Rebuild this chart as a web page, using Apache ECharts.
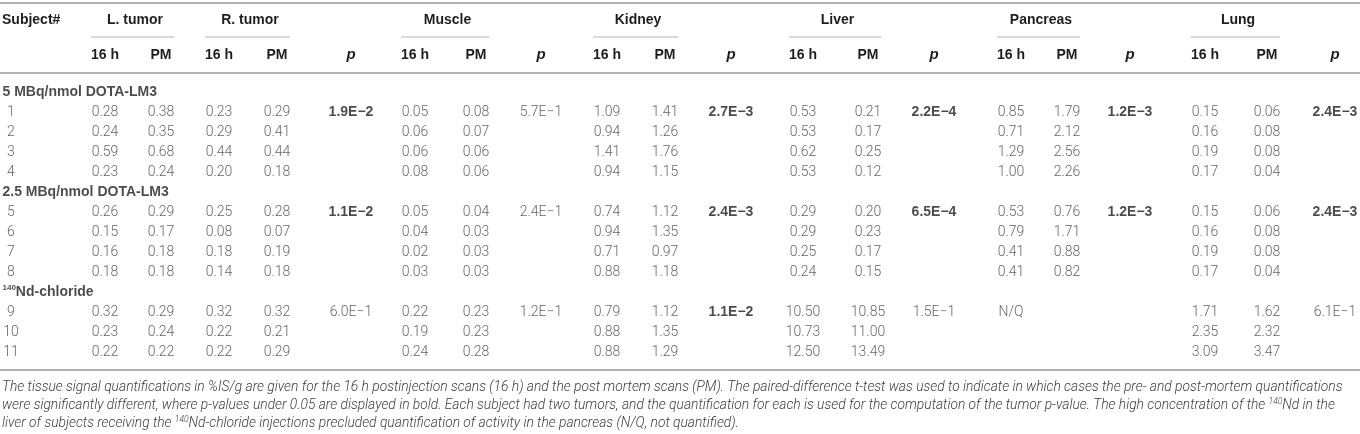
<!DOCTYPE html>
<html><head><meta charset="utf-8">
<script src="https://cdn.jsdelivr.net/npm/echarts@6/dist/echarts.min.js"></script>
<style>html,body{margin:0;padding:0;background:#fff}#c{width:1360px;height:434px}</style>
</head><body><div id="c"></div>
<script>
// ---------------- DATA ----------------
const GROUPS = ['5 MBq/nmol DOTA-LM3', '2.5 MBq/nmol DOTA-LM3', '140Nd-chloride'];
const GROUP_SUBJECTS = [[1, 2, 3, 4], [5, 6, 7, 8], [9, 10, 11]];
const ORGANS = ['L. tumor', 'R. tumor', 'Muscle', 'Kidney', 'Liver', 'Pancreas', 'Lung'];
const SUBHEADS = ['16 h', 'PM', 'p'];

const L_TUMOR_16H = [0.28, 0.24, 0.59, 0.23, 0.26, 0.15, 0.16, 0.18, 0.32, 0.23, 0.22];
const L_TUMOR_PM  = [0.38, 0.35, 0.68, 0.24, 0.29, 0.17, 0.18, 0.18, 0.29, 0.24, 0.22];
const R_TUMOR_16H = [0.23, 0.29, 0.44, 0.20, 0.25, 0.08, 0.18, 0.14, 0.32, 0.22, 0.22];
const R_TUMOR_PM  = [0.29, 0.41, 0.44, 0.18, 0.28, 0.07, 0.19, 0.18, 0.32, 0.21, 0.29];
const TUMOR_P     = [1.9e-2, 1.1e-2, 6.0e-1];
const MUSCLE_16H  = [0.05, 0.06, 0.06, 0.08, 0.05, 0.04, 0.02, 0.03, 0.22, 0.19, 0.24];
const MUSCLE_PM   = [0.08, 0.07, 0.06, 0.06, 0.04, 0.03, 0.03, 0.03, 0.23, 0.23, 0.28];
const MUSCLE_P    = [5.7e-1, 2.4e-1, 1.2e-1];
const KIDNEY_16H  = [1.09, 0.94, 1.41, 0.94, 0.74, 0.94, 0.71, 0.88, 0.79, 0.88, 0.88];
const KIDNEY_PM   = [1.41, 1.26, 1.76, 1.15, 1.12, 1.35, 0.97, 1.18, 1.12, 1.35, 1.29];
const KIDNEY_P    = [2.7e-3, 2.4e-3, 1.1e-2];
const LIVER_16H   = [0.53, 0.53, 0.62, 0.53, 0.29, 0.29, 0.25, 0.24, 10.50, 10.73, 12.50];
const LIVER_PM    = [0.21, 0.17, 0.25, 0.12, 0.20, 0.23, 0.17, 0.15, 10.85, 11.00, 13.49];
const LIVER_P     = [2.2e-4, 6.5e-4, 1.5e-1];
const PANCREAS_16H = [0.85, 0.71, 1.29, 1.00, 0.53, 0.79, 0.41, 0.41, 'N/Q', null, null];
const PANCREAS_PM  = [1.79, 2.12, 2.56, 2.26, 0.76, 1.71, 0.88, 0.82, null, null, null];
const PANCREAS_P   = [1.2e-3, 1.2e-3, null];
const LUNG_16H    = [0.15, 0.16, 0.19, 0.17, 0.15, 0.16, 0.19, 0.17, 1.71, 2.35, 3.09];
const LUNG_PM     = [0.06, 0.08, 0.08, 0.04, 0.06, 0.08, 0.08, 0.04, 1.62, 2.32, 3.47];
const LUNG_P      = [2.4e-3, 2.4e-3, 6.1e-1];
const P_THRESHOLD = 0.05;

const CAPTION = [
  'The tissue signal quantifications in %IS/g are given for the 16 h postinjection scans (16 h) and the post mortem scans (PM). The paired-difference t-test was used to indicate in which cases the pre- and post-mortem quantifications',
  'were significantly different, where p-values under 0.05 are displayed in bold. Each subject had two tumors, and the quantification for each is used for the computation of the tumor p-value. The high concentration of the {sup}Nd in the',
  'liver of subjects receiving the {sup}Nd-chloride injections precluded quantification of activity in the pancreas (N/Q, not quantified).'
];

// ---------------- LAYOUT (positions/styles only) ----------------
const W = 1360;
const COLX = {
  subj: 11,
  L16: 105, LPM: 161, R16: 219, RPM: 277, pT: 351,
  M16: 415, MPM: 476, pM: 541,
  K16: 607, KPM: 665, pK: 731,
  Li16: 803, LiPM: 868, pLi: 934,
  Pa16: 1011, PaPM: 1067, pPa: 1130,
  Lu16: 1205, LuPM: 1267, pLu: 1335
};
const Y_HEAD = 20, Y_ULINE = 37, Y_SUB = 55, Y_RULE1 = 73, Y_TOP = 3;
const GRID_TOP = 82, ROW_H = 20;
const Y_RULE2 = 370, Y_CAP = [388, 406, 424];
const FONT_NUM = 'Roboto, "Liberation Sans", sans-serif';
const FONT_BOLD = '"Liberation Sans", Arial, sans-serif';
const C_NUM = '#3c3c3c', C_HEAD = '#1e1e1e', C_RULE = '#9a9a9a', C_ULINE = '#b4b4b4';

// ---------------- BUILD ----------------
const valueCols = [
  [L_TUMOR_16H, 'L16'], [L_TUMOR_PM, 'LPM'], [R_TUMOR_16H, 'R16'], [R_TUMOR_PM, 'RPM'],
  [MUSCLE_16H, 'M16'], [MUSCLE_PM, 'MPM'], [KIDNEY_16H, 'K16'], [KIDNEY_PM, 'KPM'],
  [LIVER_16H, 'Li16'], [LIVER_PM, 'LiPM'], [PANCREAS_16H, 'Pa16'], [PANCREAS_PM, 'PaPM'],
  [LUNG_16H, 'Lu16'], [LUNG_PM, 'LuPM']
];
const pCols = [[TUMOR_P, 'pT'], [MUSCLE_P, 'pM'], [KIDNEY_P, 'pK'], [LIVER_P, 'pLi'], [PANCREAS_P, 'pPa'], [LUNG_P, 'pLu']];
const organPairs = [['L16', 'LPM'], ['R16', 'RPM'], ['M16', 'MPM'], ['K16', 'KPM'], ['Li16', 'LiPM'], ['Pa16', 'PaPM'], ['Lu16', 'LuPM']];
const pKeys = ['pT', 'pM', 'pK', 'pLi', 'pPa', 'pLu'];

const ROWS = [];
GROUPS.forEach((g, gi) => { ROWS.push('g' + gi); GROUP_SUBJECTS[gi].forEach(s => ROWS.push('s' + s)); });

function fmtNum(v) { return typeof v === 'number' ? v.toFixed(2) : v; }
function fmtP(v) {
  const e = Math.floor(Math.log10(v) + 1e-9);
  let m = v / Math.pow(10, e);
  m = Math.round(m * 10) / 10;
  return m.toFixed(1) + 'E' + (e < 0 ? '\u2212' + (-e) : e);
}

const numData = [];
valueCols.forEach(([arr, key]) => {
  arr.forEach((v, i) => {
    if (v === null || v === undefined) return;
    numData.push({ value: [COLX[key], 's' + (i + 1)], txt: fmtNum(v) });
  });
});
const pBold = [], pLight = [];
pCols.forEach(([arr, key]) => {
  arr.forEach((v, gi) => {
    if (v === null) return;
    const item = { value: [COLX[key], 's' + GROUP_SUBJECTS[gi][0]], txt: fmtP(v) };
    (v < P_THRESHOLD ? pBold : pLight).push(item);
  });
});
const subjData = [];
GROUP_SUBJECTS.forEach(list => list.forEach(s => subjData.push({ value: [COLX.subj, 's' + s], txt: String(s) })));
const groupData = GROUPS.map((g, gi) => {
  const m = g.match(/^(\d+)(Nd.*)$/);
  return { value: [0, 'g' + gi], txt: m ? '{sup|' + m[1] + '}{b|' + m[2] + '}' : '{b|' + g + '}' };
});

function textSeries(name, data, labelExtra) {
  return {
    name, type: 'scatter', data, symbolSize: 1, silent: true,
    itemStyle: { color: 'rgba(0,0,0,0)' },
    label: Object.assign({
      show: true, position: 'inside', formatter: p => p.data.txt,
      fontFamily: FONT_NUM, fontWeight: 300, fontSize: 14, color: C_NUM
    }, labelExtra || {})
  };
}

const graphics = [];
function hline(y, x1, x2, color, w) {
  graphics.push({ type: 'line', shape: { x1, y1: y, x2, y2: y }, style: { stroke: color, lineWidth: w }, silent: true });
}
function text(x, y, t, st) {
  graphics.push({ type: 'text', silent: true, style: Object.assign({ x, y, text: t, align: 'center', verticalAlign: 'middle',
    fontFamily: FONT_BOLD, fontWeight: 'bold', fontSize: 14, fill: C_HEAD }, st || {}) });
}
hline(Y_TOP, 0, W, C_RULE, 1.5);
hline(Y_RULE1, 0, W, C_RULE, 1.5);
hline(Y_RULE2, 0, W, C_RULE, 1.5);
text(2, Y_HEAD, 'Subject#', { align: 'left' });
organPairs.forEach(([a, b], i) => {
  const xa = COLX[a], xb = COLX[b];
  text((xa + xb) / 2 + 2, Y_HEAD, ORGANS[i]);
  hline(Y_ULINE, xa - 14, xb + 13, C_ULINE, 1);
  text(xa, Y_SUB, SUBHEADS[0]);
  text(xb, Y_SUB, SUBHEADS[1]);
});
pKeys.forEach(k => text(COLX[k], Y_SUB, SUBHEADS[2], { fontStyle: 'italic', fontSize: 15 }));

const capRich = {
  n: { fontFamily: FONT_NUM, fontStyle: 'italic', fontWeight: 300, fontSize: 13.8, fill: '#3c3c3c', lineHeight: 17 },
  sup: { fontFamily: FONT_NUM, fontStyle: 'italic', fontWeight: 300, fontSize: 8.5, fill: '#3c3c3c', lineHeight: 17, verticalAlign: 'top' }
};
CAPTION.forEach((line, i) => {
  const parts = line.split('{sup}');
  const rt = parts.map(s => '{n|' + s + '}').join('{sup|140}');
  graphics.push({ type: 'text', silent: true, style: { x: 2, y: Y_CAP[i], text: rt, align: 'left', verticalAlign: 'middle', rich: capRich } });
});

const chart = echarts.init(document.getElementById('c'));
chart.setOption({
  animation: false,
  backgroundColor: '#fff',
  grid: { left: 0, right: 0, top: GRID_TOP, height: ROWS.length * ROW_H },
  xAxis: { type: 'value', min: 0, max: W, show: false },
  yAxis: { type: 'category', data: ROWS, inverse: true, show: false },
  series: [
    textSeries('values', numData),
    textSeries('pLight', pLight),
    textSeries('pBold', pBold, { fontFamily: FONT_BOLD, fontWeight: 'bold', color: C_HEAD }),
    textSeries('subjects', subjData),
    textSeries('groups', groupData, {
      position: 'right', distance: 2, formatter: p => p.data.txt,
      rich: {
        b: { fontFamily: FONT_BOLD, fontWeight: 'bold', fontSize: 14, color: C_HEAD, lineHeight: 16 },
        sup: { fontFamily: FONT_BOLD, fontWeight: 'bold', fontSize: 8, color: C_HEAD, lineHeight: 16, verticalAlign: 'top' }
      }
    })
  ],
  graphic: graphics
});
</script></body></html>
